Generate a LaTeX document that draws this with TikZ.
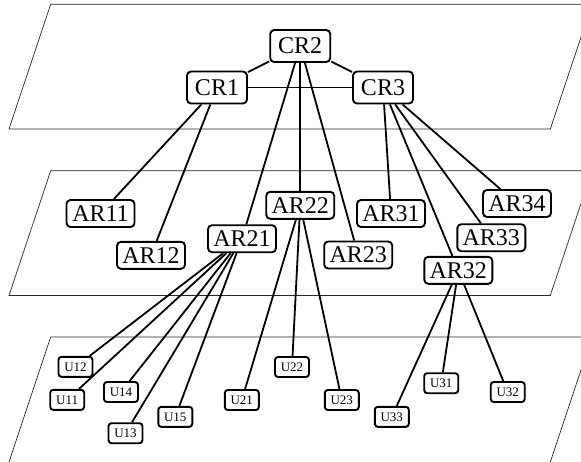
\documentclass[tikz,border=0pt]{standalone}
\usepackage{fontspec}
\setmainfont{Liberation Serif}
\begin{document}
\begin{tikzpicture}[x=1pt,y=-1pt,
  plane/.style={draw=black!85,line width=0.7pt},
  link/.style={line width=1.8pt},
  bigbox/.style={draw,line width=1.9pt,rounded corners=4pt,fill=white,inner sep=0pt,
     font=\fontsize{24}{28}\selectfont,minimum width=68pt,minimum height=27pt},
  crbox/.style={bigbox,minimum width=60pt,minimum height=32pt},
  ubox/.style={draw,line width=1.9pt,rounded corners=3pt,fill=white,inner sep=0pt,
     font=\fontsize{13}{15}\selectfont,minimum width=34pt,minimum height=20pt}]
\useasboundingbox (0,0) rectangle (581,461);
\clip (0,0) rectangle (581,461);
% planes
\foreach \t in {4.3,170.7}{
  \draw[plane] (50.7,\t) -- (592,\t) -- (550.3,\t+124.7) -- (9,\t+124.7) -- cycle;
}
\draw[plane] (50.7,337) -- (592,337) -- (549.3,465) -- (8,465) -- cycle;
% nodes
\node[crbox] (CR2) at (300.2,46) {CR2};
\node[crbox] (CR1) at (217,87.5) {CR1};
\node[crbox] (CR3) at (383,87.5) {CR3};
\node[bigbox] (AR11) at (100.5,213.5) {AR11};
\node[bigbox] (AR12) at (151,255.3) {AR12};
\node[bigbox] (AR21) at (242,238.7) {AR21};
\node[bigbox] (AR22) at (300.2,205.3) {AR22};
\node[bigbox] (AR23) at (358.2,255) {AR23};
\node[bigbox] (AR31) at (391,213.5) {AR31};
\node[bigbox] (AR34) at (517,203.5) {AR34};
\node[bigbox] (AR33) at (491.3,237.7) {AR33};
\node[bigbox] (AR32) at (458.3,270.3) {AR32};
\node[ubox] (U12) at (75.5,366.8) {U12};
\node[ubox] (U11) at (67.2,399.8) {U11};
\node[ubox] (U14) at (121,392) {U14};
\node[ubox] (U13) at (125.5,433.2) {U13};
\node[ubox] (U15) at (175.3,416.8) {U15};
\node[ubox] (U21) at (241.8,400) {U21};
\node[ubox] (U22) at (292,367) {U22};
\node[ubox] (U23) at (341.8,400) {U23};
\node[ubox] (U33) at (391.8,416.8) {U33};
\node[ubox] (U31) at (441.2,383.2) {U31};
\node[ubox] (U32) at (507.7,392) {U32};
% links
\draw[link] (CR2) -- (CR1);
\draw[link] (CR2) -- (CR3);
\draw[link] (CR1) -- (CR3);
\draw[link] (CR1) -- (AR11);
\draw[link] (CR1) -- (AR12);
\draw[link] (CR2) -- (AR21);
\draw[link] (CR2) -- (AR22);
\draw[link] (CR2) -- (AR23);
\draw[link] (CR3) -- (AR31);
\draw[link] (CR3) -- (AR32);
\draw[link] (CR3) -- (AR33);
\draw[link] (CR3) -- (AR34);
\foreach \u in {U11,U12,U13,U14,U15}{\draw[link] (AR21) -- (\u);}
\foreach \u in {U21,U22,U23}{\draw[link] (AR22) -- (\u);}
\foreach \u in {U31,U32,U33}{\draw[link] (AR32) -- (\u);}
\end{tikzpicture}
\end{document}
